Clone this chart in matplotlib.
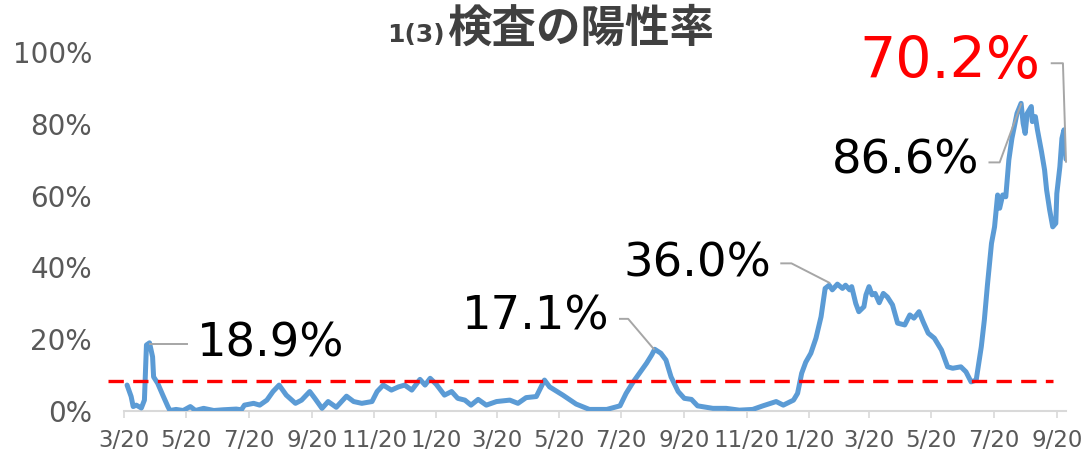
import pandas as pd
import matplotlib
matplotlib.use("Agg")
import matplotlib.pyplot as plt

plt.rcParams['font.family'] = ['DejaVu Sans', 'Noto Sans CJK JP']

# positivity rate (%)
dates = [
    "2020-03-23", "2020-03-27", "2020-03-29", "2020-04-01", "2020-04-06", "2020-04-09",
    "2020-04-11", "2020-04-14", "2020-04-17", "2020-04-18", "2020-04-22", "2020-04-27",
    "2020-05-02", "2020-05-04", "2020-05-10", "2020-05-17", "2020-05-24", "2020-05-29",
    "2020-06-06", "2020-06-16", "2020-06-25", "2020-07-08", "2020-07-13", "2020-07-16",
    "2020-07-25", "2020-07-31", "2020-08-07", "2020-08-13", "2020-08-19", "2020-08-26",
    "2020-09-04", "2020-09-10", "2020-09-18", "2020-09-23", "2020-09-30", "2020-10-06",
    "2020-10-14", "2020-10-24", "2020-10-31", "2020-11-08", "2020-11-18", "2020-11-23",
    "2020-11-29", "2020-12-07", "2020-12-14", "2020-12-20", "2020-12-27",
    "2021-01-04", "2021-01-09", "2021-01-14", "2021-01-20", "2021-01-28", "2021-02-04",
    "2021-02-10", "2021-02-17", "2021-02-23", "2021-03-02", "2021-03-10", "2021-03-20",
    "2021-04-02", "2021-04-10", "2021-04-18", "2021-04-28", "2021-05-06", "2021-05-11",
    "2021-05-24", "2021-06-06", "2021-06-19", "2021-07-06", "2021-07-19", "2021-07-25",
    "2021-08-01", "2021-08-07", "2021-08-14", "2021-08-19", "2021-08-22", "2021-08-28",
    "2021-09-02", "2021-09-07", "2021-09-14", "2021-09-20", "2021-09-27", "2021-10-03",
    "2021-10-18", "2021-10-31", "2021-11-13", "2021-11-26", "2021-12-06", "2021-12-19",
    "2021-12-26",
    "2022-01-05", "2022-01-09", "2022-01-13", "2022-01-17", "2022-01-22", "2022-01-27",
    "2022-02-01", "2022-02-05", "2022-02-09", "2022-02-12", "2022-02-17", "2022-02-22",
    "2022-02-25", "2022-03-01", "2022-03-03", "2022-03-07", "2022-03-10", "2022-03-15",
    "2022-03-17", "2022-03-20", "2022-03-23", "2022-03-26", "2022-03-30", "2022-04-03",
    "2022-04-07", "2022-04-12", "2022-04-17", "2022-04-24", "2022-04-29", "2022-05-03",
    "2022-05-08", "2022-05-12", "2022-05-17", "2022-05-23", "2022-05-30", "2022-06-05",
    "2022-06-10", "2022-06-18", "2022-06-23", "2022-06-28", "2022-07-03", "2022-07-08",
    "2022-07-11", "2022-07-14", "2022-07-18", "2022-07-21", "2022-07-24", "2022-07-26",
    "2022-07-29", "2022-08-01", "2022-08-04", "2022-08-07", "2022-08-10", "2022-08-12",
    "2022-08-16", "2022-08-18", "2022-08-20", "2022-08-22", "2022-08-26", "2022-08-27",
    "2022-08-30", "2022-09-01", "2022-09-05", "2022-09-08", "2022-09-10", "2022-09-13",
    "2022-09-16", "2022-09-19", "2022-09-20", "2022-09-23", "2022-09-25", "2022-09-27",
    "2022-09-29",
]
rate = [
    7.1, 3.9, 1.1, 1.5, 0.7, 2.9,
    18.3, 18.9, 15.0, 9.4, 7.6, 4.3,
    1.1, 0.0, 0.3, 0.0, 1.1, 0.0,
    0.6, 0.0, 0.2, 0.4, 0.2, 1.5,
    2.0, 1.5, 2.9, 5.3, 7.1, 4.3,
    2.0, 2.9, 5.3, 3.4, 0.6, 2.5,
    0.9, 4.0, 2.5, 2.0, 2.5, 5.3,
    7.1, 5.7, 6.6, 7.1, 5.7,
    8.7, 7.1, 9.0, 7.3, 4.3, 5.3,
    3.4, 2.9, 1.5, 3.1, 1.5, 2.5,
    2.9, 2.0, 3.6, 3.9, 8.5, 6.6,
    4.3, 1.8, 0.3, 0.3, 1.3, 4.8,
    8.0, 10.4, 13.2, 15.5, 17.1, 16.0,
    14.1, 9.4, 5.3, 3.4, 3.1, 1.3,
    0.6, 0.6, 0.1, 0.3, 1.3, 2.5,
    1.5,
    2.9, 4.8, 10.4, 13.5, 16.0, 20.2,
    26.2, 34.1, 35.0, 33.7, 35.3, 34.1,
    35.0, 33.7, 34.6, 29.9, 27.6, 29.0,
    32.3, 34.6, 32.3, 32.7, 30.1, 32.7,
    31.7, 29.5, 24.4, 23.9, 26.7, 25.8,
    27.6, 24.8, 21.6, 20.2, 16.9, 12.2,
    11.8, 12.2, 10.8, 8.0, 8.5, 17.8,
    25.3, 35.0, 46.7, 51.3, 60.2, 56.5,
    60.2, 59.7, 70.0, 76.0, 80.2, 83.0,
    85.8, 80.2, 77.4, 83.0, 84.9, 80.7,
    82.1, 78.4, 72.3, 67.2, 61.6, 56.0,
    51.3, 52.3, 60.6, 68.1, 76.0, 78.4,
    70.2,
]

threshold = 8.2
threshold_span = ["2020-03-04", "2022-09-16"]

tick_dates = ["2020-03-20", "2020-05-20", "2020-07-20", "2020-09-20", "2020-11-20",
              "2021-01-20", "2021-03-20", "2021-05-20", "2021-07-20", "2021-09-20",
              "2021-11-20", "2022-01-20", "2022-03-20", "2022-05-20", "2022-07-20",
              "2022-09-20"]
tick_labels = ["3/20", "5/20", "7/20", "9/20", "11/20", "1/20", "3/20", "5/20",
               "7/20", "9/20", "11/20", "1/20", "3/20", "5/20", "7/20", "9/20"]

peak_labels = ["18.9%", "17.1%", "36.0%", "86.6%", "70.2%"]

blue = "#5B9BD5"
leader = "#A6A6A6"

W, H = 1082, 453
fig = plt.figure(figsize=(W / 100, H / 100), dpi=100)
ax = fig.add_axes([124 / W, (H - 410.5) / H, (1066 - 124) / W, (410.5 - 52.5) / H])

x = pd.to_datetime(dates)
ax.plot(x, rate, color=blue, lw=3.6, solid_joinstyle="round", solid_capstyle="round", zorder=3)

ln, = ax.plot(pd.to_datetime(threshold_span), [threshold, threshold], color="red",
              lw=2.4, clip_on=False, zorder=4)
ln.set_dashes([4.6, 2.8])

ax.set_xlim(pd.Timestamp("2020-03-20"), pd.Timestamp("2022-09-29"))
ax.set_ylim(0, 100)
ax.set_yticks([0, 20, 40, 60, 80, 100])
ax.set_yticklabels([f"{v}%" for v in range(0, 101, 20)])
ax.set_xticks(pd.to_datetime(tick_dates))
ax.set_xticklabels(tick_labels)

for s in ["top", "right", "left"]:
    ax.spines[s].set_visible(False)
ax.spines["bottom"].set_color("#D9D9D9")
ax.spines["bottom"].set_linewidth(1.5)
ax.tick_params(axis="x", colors="#D9D9D9", length=5, width=1.2, direction="out",
               labelcolor="#595959", labelsize=16.5, pad=8)
ax.tick_params(axis="y", length=0, labelcolor="#595959", labelsize=20, pad=23)

# leader lines
T = pd.Timestamp
leaders = [
    ([T("2020-04-14"), T("2020-05-21")], [18.6, 18.6]),
    ([T("2021-07-19"), T("2021-07-27"), T("2021-08-21")], [25.6, 25.6, 17.2]),
    ([T("2021-12-24"), T("2022-01-03"), T("2022-02-09")], [41.1, 41.1, 35.7]),
    ([T("2022-07-16"), T("2022-07-26"), T("2022-08-16")], [69.3, 69.3, 85.6]),
    ([T("2022-09-15"), T("2022-09-26"), T("2022-09-29")], [97.0, 97.0, 69.5]),
]
for lx, ly in leaders:
    ax.plot(lx, ly, color=leader, lw=1.4, clip_on=False, zorder=5)

ax.text(T("2020-05-30"), 18.6, peak_labels[0], fontsize=33.5, ha="left", va="center", color="black")
ax.text(T("2021-07-09"), 26.1, peak_labels[1], fontsize=33.5, ha="right", va="center", color="black")
ax.text(T("2021-12-14"), 40.9, peak_labels[2], fontsize=33.5, ha="right", va="center", color="black")
ax.text(T("2022-07-06"), 69.7, peak_labels[3], fontsize=33.5, ha="right", va="center", color="black")
ax.text(T("2022-09-04"), 97.3, peak_labels[4], fontsize=41, ha="right", va="center", color="red")

# title
fig.text(445 / W, (H - 42) / H, "1(3)", fontsize=18, fontweight="bold", color="#404040",
         ha="right", va="baseline")
fig.text(447 / W, (H - 42) / H, "検査の陽性率", fontsize=32, fontweight="bold", color="#404040",
         ha="left", va="baseline", family=["Noto Sans CJK JP", "DejaVu Sans"])

fig.savefig("out.png", dpi=100, facecolor="white")
